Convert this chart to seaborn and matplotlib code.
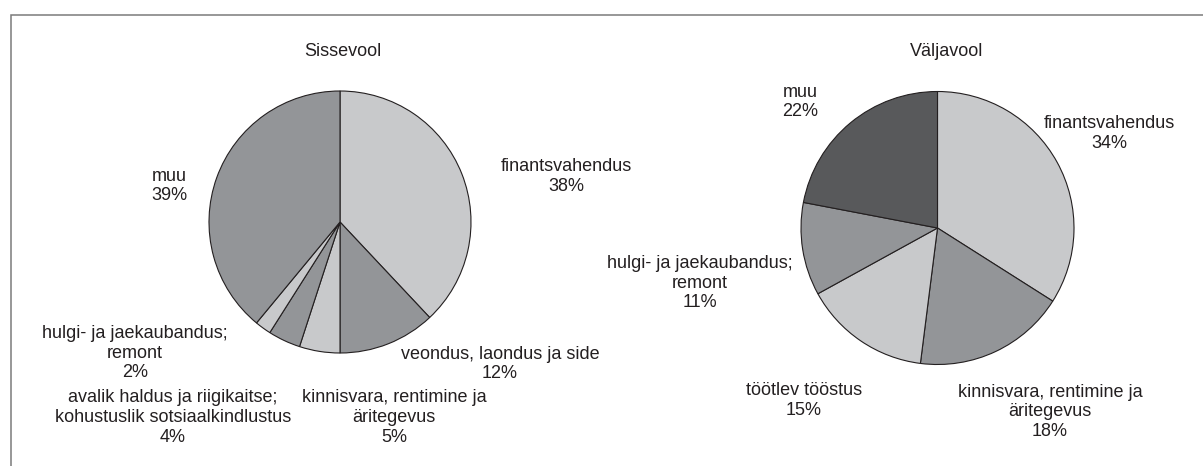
import matplotlib
matplotlib.use("Agg")
import matplotlib.pyplot as plt
from matplotlib.patches import Rectangle
import seaborn as sns

# ---- data ----
in_title = "Sissevool"
in_labels = ["finantsvahendus", "veondus, laondus ja side",
             "kinnisvara, rentimine ja\näritegevus",
             "avalik haldus ja riigikaitse;\nkohustuslik sotsiaalkindlustus",
             "hulgi- ja jaekaubandus;\nremont", "muu"]
in_values = [38, 12, 5, 4, 2, 39]

out_title = "Väljavool"
out_labels = ["finantsvahendus", "kinnisvara, rentimine ja\näritegevus",
              "töötlev tööstus", "hulgi- ja jaekaubandus;\nremont", "muu"]
out_values = [34, 18, 15, 11, 22]

# ---- style ----
sns.set_theme(style="white")
plt.rcParams["font.family"] = ["Liberation Sans", "DejaVu Sans"]

light, mid, dark = "#c8c9cb", "#939598", "#58595b"
in_colors = [light, mid, light, mid, light, mid]
out_colors = [light, mid, light, mid, dark]

W, H = 1203, 466
fig = plt.figure(figsize=(W / 100, H / 100), dpi=100)
ax = fig.add_axes([0, 0, 1, 1])


def py(y):
    # pixel row (from top) -> data y
    return H - y


wedge_kw = dict(edgecolor="#231f20", linewidth=0.8)

ax.pie(in_values, colors=in_colors, startangle=90, counterclock=False,
       center=(340, py(222)), radius=131, wedgeprops=wedge_kw, frame=True)
ax.pie(out_values, colors=out_colors, startangle=90, counterclock=False,
       center=(937.5, py(228)), radius=136.5, wedgeprops=wedge_kw, frame=True)

# label positions (pixel coords of text block centres)
in_pos = [(566, 176.5), (500, 364), (394, 417.5), (173, 417.5), (135, 353.3), (169, 186)]
out_pos = [(1109, 133.5), (1050, 411.7), (804, 400.7), (700, 283.3), (800, 102)]

fs = 13
for lab, val, (x, y) in zip(in_labels, in_values, in_pos):
    ax.text(x, py(y), f"{lab}\n{val}%", ha="center", va="center",
            fontsize=fs, color="#231f20")
for lab, val, (x, y) in zip(out_labels, out_values, out_pos):
    ax.text(x, py(y), f"{lab}\n{val}%", ha="center", va="center",
            fontsize=fs, color="#231f20")

ax.text(343, py(52), in_title, ha="center", va="center", fontsize=fs, color="#231f20")
ax.text(947, py(52), out_title, ha="center", va="center", fontsize=fs, color="#231f20")

# outer frame (only top and left edges are visible in the crop)
ax.add_patch(Rectangle((11, -20), W + 40, py(15) + 20, fill=False,
                       edgecolor="#7a7a7a", linewidth=1.1, clip_on=False))

ax.set_xlim(0, W)
ax.set_ylim(0, H)
ax.set_aspect("auto")
ax.axis("off")

fig.savefig("out.png", dpi=100, facecolor="white")
